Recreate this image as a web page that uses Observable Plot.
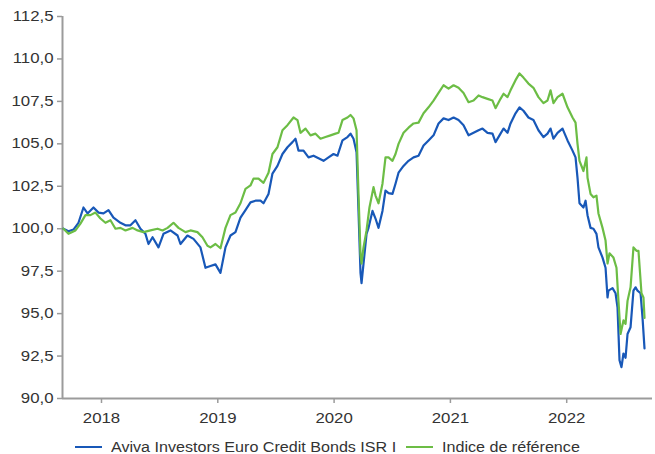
<!DOCTYPE html>
<html>
<head>
<meta charset="utf-8">
<script src="https://cdn.jsdelivr.net/npm/d3@7"></script>
<script src="https://cdn.jsdelivr.net/npm/@observablehq/plot@0.6"></script>
<style>
  html, body { margin: 0; padding: 0; background: #fff; }
  body { position: relative; width: 655px; height: 454px; overflow: hidden; font-family: "Liberation Sans", Arial, sans-serif; }
  #chart { position: absolute; left: 0; top: 0; }
  #legend { position: absolute; left: 0; top: 441px; width: 655px; height: 12px; display: flex; justify-content: center; align-items: center; font-size: 14px; line-height: 12px; color: #333; white-space: nowrap; }
  .item { display: flex; align-items: center; height: 12px; }
  .item + .item { margin-left: 10px; }
  .sw { width: 27px; height: 2px; margin-right: 9px; }
  .lab { display: inline-block; height: 12px; line-height: 12px; }
  .lab span { display: inline-block; transform-origin: 0 50%; line-height: 12px; }
</style>
</head>
<body>
<div id="chart"></div>
<div id="legend"></div>
<script>
// Series names
const fundName = "Aviva Investors Euro Credit Bonds ISR I";
const indexName = "Indice de référence";

// Fund (decimal years, base-100 values)
const fundYears = [2017.673,2017.716,2017.759,2017.802,2017.845,2017.880,2017.931,2017.974,2018.017,2018.060,2018.103,2018.163,2018.206,2018.249,2018.292,2018.335,2018.378,2018.404,2018.439,2018.490,2018.533,2018.593,2018.654,2018.679,2018.739,2018.791,2018.851,2018.894,2018.937,2018.980,2019.023,2019.066,2019.109,2019.152,2019.195,2019.238,2019.281,2019.324,2019.367,2019.393,2019.436,2019.470,2019.513,2019.556,2019.599,2019.642,2019.668,2019.694,2019.737,2019.780,2019.823,2019.866,2019.909,2019.952,2019.995,2020.029,2020.072,2020.115,2020.141,2020.167,2020.193,2020.210,2020.227,2020.236,2020.253,2020.279,2020.296,2020.330,2020.356,2020.382,2020.416,2020.442,2020.468,2020.502,2020.528,2020.554,2020.597,2020.640,2020.683,2020.726,2020.769,2020.812,2020.855,2020.898,2020.941,2020.984,2021.027,2021.070,2021.113,2021.156,2021.199,2021.242,2021.276,2021.319,2021.362,2021.388,2021.431,2021.457,2021.491,2021.517,2021.560,2021.594,2021.628,2021.671,2021.714,2021.757,2021.800,2021.835,2021.861,2021.886,2021.921,2021.964,2022.007,2022.050,2022.076,2022.093,2022.110,2022.144,2022.162,2022.179,2022.205,2022.230,2022.256,2022.273,2022.308,2022.334,2022.351,2022.359,2022.394,2022.420,2022.437,2022.454,2022.471,2022.488,2022.506,2022.523,2022.549,2022.574,2022.592,2022.609,2022.635,2022.652,2022.669];
const fundValues = [100.0,99.85,99.95,100.35,101.25,100.9,101.25,100.95,100.9,101.1,100.65,100.35,100.2,100.2,100.5,100.0,99.7,99.1,99.5,98.9,99.7,99.9,99.6,99.1,99.6,99.4,98.9,97.7,97.8,97.9,97.4,98.9,99.6,99.8,100.65,101.1,101.55,101.65,101.65,101.5,102.05,103.25,103.7,104.4,104.8,105.1,105.3,104.6,104.6,104.2,104.3,104.15,104.0,104.2,104.4,104.3,105.2,105.4,105.6,105.3,104.5,101.0,97.4,96.8,97.95,99.7,100.05,101.05,100.6,100.05,101.05,102.25,102.1,102.05,102.65,103.3,103.7,104.0,104.2,104.3,104.9,105.2,105.5,106.2,106.5,106.4,106.55,106.4,106.1,105.5,105.65,105.8,105.9,105.65,105.6,105.1,105.6,105.9,105.65,106.2,106.8,107.15,106.95,106.55,106.4,105.8,105.4,105.6,105.9,105.3,105.65,105.9,105.2,104.6,104.2,103.0,101.5,101.25,101.65,100.8,100.05,100.0,99.7,98.9,98.3,97.7,95.95,96.35,96.5,96.2,95.35,92.25,91.85,92.65,92.4,93.8,94.2,96.35,96.55,96.35,96.2,94.75,92.95];

// Reference index
const indexYears = [2017.673,2017.716,2017.776,2017.819,2017.862,2017.905,2017.948,2017.991,2018.034,2018.077,2018.120,2018.163,2018.206,2018.267,2018.310,2018.361,2018.421,2018.482,2018.525,2018.568,2018.619,2018.662,2018.722,2018.765,2018.825,2018.868,2018.911,2018.937,2018.980,2019.023,2019.066,2019.109,2019.152,2019.195,2019.238,2019.281,2019.307,2019.350,2019.393,2019.436,2019.470,2019.513,2019.556,2019.599,2019.651,2019.685,2019.711,2019.754,2019.797,2019.840,2019.883,2019.926,2019.969,2020.012,2020.038,2020.072,2020.115,2020.141,2020.167,2020.193,2020.210,2020.227,2020.236,2020.253,2020.279,2020.304,2020.339,2020.356,2020.382,2020.416,2020.442,2020.468,2020.502,2020.528,2020.554,2020.597,2020.640,2020.683,2020.726,2020.769,2020.812,2020.855,2020.898,2020.941,2020.984,2021.027,2021.070,2021.113,2021.156,2021.199,2021.242,2021.276,2021.319,2021.362,2021.388,2021.431,2021.457,2021.491,2021.517,2021.560,2021.594,2021.628,2021.671,2021.714,2021.757,2021.800,2021.835,2021.861,2021.886,2021.921,2021.964,2022.007,2022.050,2022.076,2022.093,2022.110,2022.144,2022.170,2022.179,2022.205,2022.230,2022.256,2022.273,2022.308,2022.334,2022.351,2022.368,2022.402,2022.428,2022.445,2022.463,2022.488,2022.506,2022.523,2022.549,2022.574,2022.600,2022.617,2022.643,2022.660,2022.669];
const indexValues = [100.0,99.7,99.9,100.3,100.8,100.8,100.95,100.6,100.35,100.5,100.0,100.05,99.9,100.05,99.9,99.8,99.9,100.0,99.9,100.05,100.35,100.05,99.8,99.9,99.8,99.5,99.0,98.9,99.1,98.85,100.05,100.8,100.95,101.5,102.35,102.55,102.95,102.95,102.7,103.3,104.4,104.8,105.8,106.1,106.55,106.4,105.65,105.9,105.5,105.6,105.3,105.4,105.5,105.6,105.65,106.4,106.55,106.7,106.5,105.8,102.0,98.5,97.95,98.9,99.9,101.25,102.45,101.95,101.5,102.65,104.2,104.2,104.0,104.4,105.0,105.65,105.95,106.2,106.25,106.8,107.15,107.55,108.0,108.45,108.25,108.45,108.3,108.0,107.45,107.55,107.85,107.75,107.65,107.55,107.1,107.65,107.95,107.75,108.15,108.75,109.15,108.9,108.55,108.3,107.75,107.4,107.55,108.15,107.4,107.75,107.95,107.15,106.55,106.25,105.0,104.0,103.4,104.2,103.0,102.05,101.85,101.95,100.9,100.05,99.3,97.95,98.55,98.3,97.7,95.75,93.8,94.6,94.4,95.75,96.55,98.9,98.7,98.7,96.2,95.95,94.75];

// Axes
const yTicks = [90, 92.5, 95, 97.5, 100, 102.5, 105, 107.5, 110, 112.5];
const xTicks = [2018, 2019, 2020, 2021, 2022];
const xDomain = [2017.6647, 2022.7377];
const yDomain = [90, 112.5];

const fundColor = "#1858b8";
const indexColor = "#6cbd45";
const axisColor = "#9b9b9b";
const textColor = "#333333";
const stretch = 1.2;        // reference tick text is horizontally widened
const legendStretch = 1.15;

const fund = fundYears.map((t, i) => ({t, v: fundValues[i]}));
const index = indexYears.map((t, i) => ({t, v: indexValues[i]}));

const fmt = v => v.toFixed(1).replace(".", ",");

const chart = Plot.plot({
  width: 655,
  height: 425,
  marginLeft: 62,
  marginRight: 3,
  marginTop: 16,
  marginBottom: 27,
  style: {fontFamily: "'Liberation Sans', Arial, sans-serif", fontSize: "14px", background: "#fff", color: textColor},
  x: {type: "linear", domain: xDomain},
  y: {domain: yDomain},
  marks: [
    Plot.axisY({ticks: yTicks, tickFormat: fmt, tickSize: 5, tickPadding: 4, stroke: axisColor, fill: textColor, strokeWidth: 1.5, label: null}),
    Plot.axisX({ticks: xTicks, tickFormat: d => String(d), tickSize: 5, tickPadding: 10, stroke: axisColor, fill: textColor, strokeWidth: 1.5, label: null}),
    Plot.ruleX([xDomain[0]], {stroke: axisColor, strokeWidth: 2}),
    Plot.ruleY([yDomain[0]], {stroke: axisColor, strokeWidth: 2}),
    Plot.line(fund, {x: "t", y: "v", stroke: fundColor, strokeWidth: 2.2, curve: "linear"}),
    Plot.line(index, {x: "t", y: "v", stroke: indexColor, strokeWidth: 2.2, curve: "linear"})
  ]
});
document.getElementById("chart").appendChild(chart);

// widen tick label glyphs horizontally around their anchor
chart.querySelectorAll("text").forEach(el => {
  const tr = el.getAttribute("transform");
  if (tr) {
    el.setAttribute("transform", tr + ` scale(${stretch},1)`);
  } else {
    const x = +el.getAttribute("x") || 0, y = +el.getAttribute("y") || 0;
    el.setAttribute("transform", `translate(${x},${y}) scale(${stretch},1) translate(${-x},${-y})`);
  }
});

const legend = document.getElementById("legend");
[[fundName, fundColor], [indexName, indexColor]].forEach(([name, color]) => {
  const item = document.createElement("div");
  item.className = "item";
  const sw = document.createElement("div");
  sw.className = "sw";
  sw.style.background = color;
  const lab = document.createElement("div");
  lab.className = "lab";
  const span = document.createElement("span");
  span.textContent = name;
  lab.appendChild(span);
  item.appendChild(sw);
  item.appendChild(lab);
  legend.appendChild(item);
  const w = span.getBoundingClientRect().width;
  lab.style.width = (w * legendStretch) + "px";
  span.style.transform = `scaleX(${legendStretch})`;
});
</script>
</body>
</html>
